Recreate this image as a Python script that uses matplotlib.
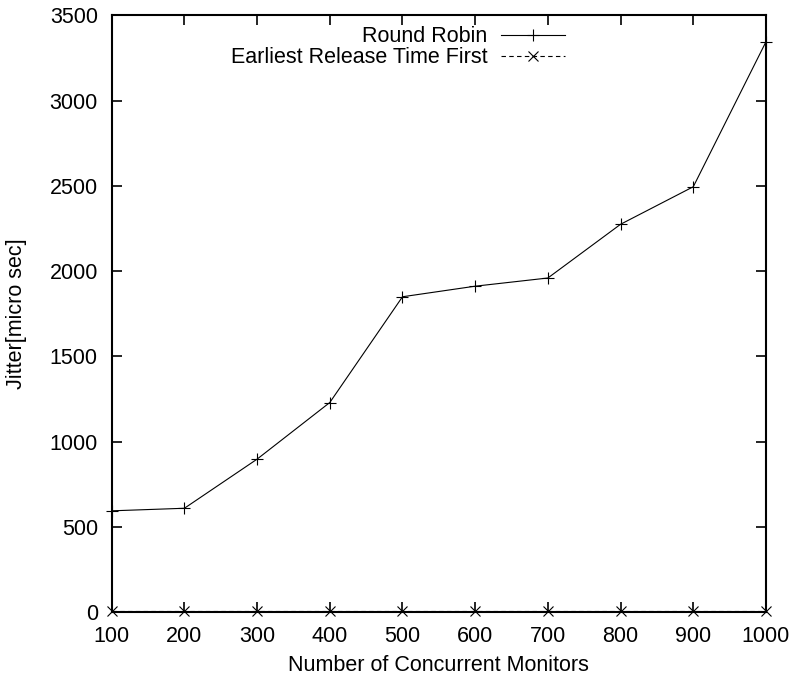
import matplotlib
matplotlib.use('Agg')
import matplotlib.pyplot as plt

plt.rcParams['font.family'] = ['Liberation Sans', 'DejaVu Sans']

monitors = [100, 200, 300, 400, 500, 600, 700, 800, 900, 1000]
round_robin = [595, 610, 898, 1230, 1850, 1912, 1960, 2275, 2495, 3345]
ertf = [5, 5, 5, 5, 5, 5, 5, 5, 5, 5]

fs = 15.5

fig = plt.figure(figsize=(7.95, 6.84), dpi=100)
ax = fig.add_axes([0.1405, 0.1048, 0.823, 0.8728])

ax.plot(monitors, round_robin, color='black', linewidth=0.8, marker='+',
        markersize=8, markeredgewidth=0.8, label='Round Robin', clip_on=False)
ax.plot(monitors, ertf, color='black', linewidth=0.8, linestyle=(0, (4, 3)),
        marker='x', markersize=7, markeredgewidth=0.8,
        label='Earliest Release Time First', clip_on=False)

ax.set_xlim(100, 1000)
ax.set_ylim(0, 3500)
ax.set_xticks(monitors)
ax.set_yticks(range(0, 3501, 500))
ax.tick_params(direction='in', length=7, width=1.2, top=True, right=True,
               labelsize=fs)
ax.tick_params(axis='x', pad=10)
ax.tick_params(axis='y', pad=10)
for s in ax.spines.values():
    s.set_linewidth(1.5)

ax.set_xlabel('Number of Concurrent Monitors', fontsize=fs)
ax.set_ylabel('Jitter[micro sec]', fontsize=fs)
ax.xaxis.set_label_coords(0.5, -0.071)
ax.yaxis.set_label_coords(-0.13, 0.5)

ax.legend(loc='upper right', bbox_to_anchor=(0.693, 0.982), frameon=False,
          markerfirst=False, fontsize=fs, handlelength=3.0, handletextpad=0.6,
          borderpad=0, borderaxespad=0, labelspacing=0.0)

fig.savefig('out.png', dpi=100)
